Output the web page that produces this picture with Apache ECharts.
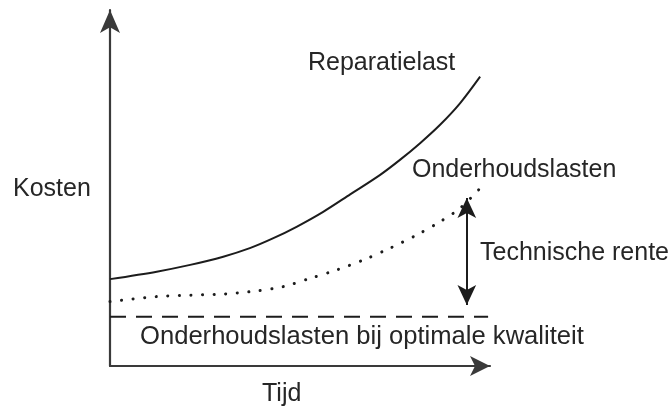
<!DOCTYPE html>
<html>
<head>
<meta charset="utf-8">
<script src="https://cdn.jsdelivr.net/npm/echarts@6/dist/echarts.min.js"></script>
<style>
  html, body { margin: 0; padding: 0; background: #fff; }
  #chart { width: 670px; height: 408px; }
</style>
</head>
<body>
<div id="chart"></div>
<script>
// conceptual chart: time (0-100) vs costs (0-100)
const reparatieTijd   = [0, 12.3, 21.1, 29.8, 36.8, 43.0, 49.1, 56.1, 63.2, 71.1, 76.3, 81.6, 86.8, 92.1, 97.4];
const reparatieKosten = [24.4, 26.5, 28.4, 30.7, 33.1, 35.9, 39.1, 43.3, 48.2, 53.7, 57.9, 62.6, 67.7, 73.8, 81.3];

const onderhoudTijd   = [0, 12.3, 21.1, 29.8, 38.6, 45.6, 52.6, 59.7, 66.7, 73.7, 80.7, 86.8, 92.1, 97.8];
const onderhoudKosten = [18.1, 19.5, 19.9, 20.2, 21.1, 22.3, 24.6, 27.0, 29.8, 33.1, 36.8, 40.5, 44.3, 50.4];

const optimaalTijd   = [0, 99.5];
const optimaalKosten = 13.8;

// "Technische rente" span (between the two cost levels)
const renteTijd   = 93.9;
const renteKosten = [47.2, 17.1];

const labels = {
  y: 'Kosten',
  x: 'Tijd',
  reparatie: 'Reparatielast',
  onderhoud: 'Onderhoudslasten',
  rente: 'Technische rente',
  optimaal: 'Onderhoudslasten bij optimale kwaliteit'
};

const ink = '#1c1c1c';
const font = '"Liberation Sans", Arial, Helvetica, sans-serif';
const zip = (xs, ys) => xs.map((x, i) => [x, ys[i]]);

const chart = echarts.init(document.getElementById('chart'), null, { renderer: 'canvas' });

const txt = (text, x, y, size = 25) => ({
  type: 'text', left: x, top: y,
  style: { text, fill: '#262626', font: size + 'px ' + font }
});

chart.setOption({
  animation: false,
  backgroundColor: '#fff',
  grid: { left: 110, right: 180, top: 10, bottom: 42, containLabel: false },
  xAxis: {
    type: 'value', min: 0, max: 100,
    axisLine: { show: true, onZero: false, symbol: ['none', 'arrow'], symbolSize: [15, 20],
                lineStyle: { color: '#3a3a3a', width: 2.2 } },
    axisTick: { show: false }, axisLabel: { show: false }, splitLine: { show: false }
  },
  yAxis: {
    type: 'value', min: 0, max: 100,
    axisLine: { show: true, onZero: false, symbol: ['none', 'arrow'], symbolSize: [15, 23],
                lineStyle: { color: '#3a3a3a', width: 2.2 } },
    axisTick: { show: false }, axisLabel: { show: false }, splitLine: { show: false }
  },
  series: [
    {
      type: 'line', data: zip(reparatieTijd, reparatieKosten), smooth: 0.3,
      symbol: 'none', clip: false,
      lineStyle: { color: ink, width: 2 }
    },
    {
      type: 'line', data: zip(onderhoudTijd, onderhoudKosten), smooth: 0.3,
      symbol: 'none', clip: false,
      lineStyle: { color: ink, width: 3, type: [0.1, 11.5], cap: 'round' }
    },
    {
      type: 'line', data: optimaalTijd.map(t => [t, optimaalKosten]),
      symbol: 'none', clip: false,
      lineStyle: { color: ink, width: 2, type: [16, 10] },
      markLine: {
        silent: true, animation: false,
        symbol: ['arrow', 'arrow'], symbolSize: [14, 20],
        label: { show: false },
        lineStyle: { color: ink, width: 2, type: 'solid' },
        data: [[{ coord: [renteTijd, renteKosten[0]] }, { coord: [renteTijd, renteKosten[1]] }]]
      }
    }
  ],
  graphic: [
    txt(labels.y, 13, 176.5),
    txt(labels.reparatie, 308, 50.5),
    txt(labels.onderhoud, 412, 158),
    txt(labels.rente, 480, 240.5),
    txt(labels.optimaal, 140, 323.5, 25.6),
    txt(labels.x, 262, 381.5)
  ]
});
</script>
</body>
</html>
